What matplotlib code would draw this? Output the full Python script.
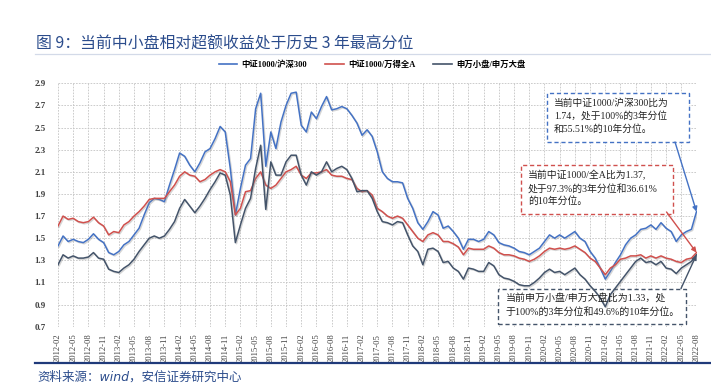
import matplotlib
matplotlib.use("Agg")
import matplotlib.pyplot as plt
import matplotlib.patheffects as pe
from matplotlib.patches import Rectangle
from matplotlib.lines import Line2D
import numpy as np
import pandas as pd

# ---------------- data ----------------
months = pd.date_range("2012-02-01", "2022-08-01", freq="MS").strftime("%Y-%m").tolist()
tick_labels = months[::3]

csi1000_hs300 = [
    1.43, 1.52, 1.47, 1.49, 1.47, 1.46, 1.49, 1.54, 1.49, 1.46,
    1.37, 1.35, 1.38, 1.44, 1.47, 1.53, 1.59, 1.71, 1.82, 1.86,
    1.85, 1.83, 1.98, 2.12, 2.27, 2.24, 2.16, 2.10, 2.18, 2.28,
    2.31, 2.40, 2.51, 2.46, 2.13, 1.71, 1.95, 2.16, 2.22, 2.67,
    2.81, 2.15, 2.46, 2.31, 2.55, 2.70, 2.81, 2.82, 2.52, 2.46,
    2.64, 2.58, 2.69, 2.78, 2.66, 2.67, 2.69, 2.67, 2.61, 2.54,
    2.43, 2.48, 2.42, 2.28, 2.10, 2.04, 2.01, 2.01, 2.00, 1.86,
    1.77, 1.64, 1.58, 1.65, 1.74, 1.71, 1.59, 1.61, 1.56, 1.50,
    1.40, 1.49, 1.49, 1.47, 1.49, 1.56, 1.53, 1.46, 1.44, 1.43,
    1.41, 1.38, 1.37, 1.35, 1.38, 1.41, 1.47, 1.53, 1.50, 1.53,
    1.50, 1.53, 1.56, 1.50, 1.47, 1.38, 1.32, 1.23, 1.13, 1.20,
    1.28, 1.35, 1.44, 1.50, 1.53, 1.58, 1.59, 1.62, 1.58, 1.64,
    1.59, 1.56, 1.47, 1.53, 1.56, 1.58, 1.74,
]

csi1000_winda = [
    1.61, 1.70, 1.67, 1.68, 1.65, 1.64, 1.65, 1.69, 1.64, 1.61,
    1.53, 1.56, 1.55, 1.62, 1.65, 1.70, 1.74, 1.79, 1.85, 1.86,
    1.86, 1.86, 1.92, 1.98, 2.06, 2.10, 2.07, 2.06, 2.01, 2.03,
    2.07, 2.10, 2.12, 2.10, 2.01, 1.71, 1.77, 1.92, 1.93, 2.04,
    2.10, 1.98, 1.95, 1.98, 2.04, 2.10, 2.12, 2.15, 2.07, 2.04,
    2.09, 2.09, 2.10, 2.12, 2.07, 2.06, 2.06, 2.04, 2.03, 1.95,
    1.92, 1.93, 1.89, 1.77, 1.74, 1.70, 1.68, 1.70, 1.68, 1.62,
    1.56, 1.50, 1.47, 1.53, 1.55, 1.53, 1.47, 1.47, 1.45, 1.42,
    1.35, 1.41, 1.40, 1.40, 1.40, 1.43, 1.41, 1.37, 1.35, 1.35,
    1.34, 1.32, 1.31, 1.29, 1.31, 1.34, 1.38, 1.41, 1.40, 1.41,
    1.40, 1.41, 1.43, 1.40, 1.37, 1.32, 1.29, 1.23, 1.17, 1.23,
    1.26, 1.31, 1.32, 1.34, 1.34, 1.35, 1.32, 1.34, 1.32, 1.34,
    1.32, 1.31, 1.29, 1.28, 1.31, 1.32, 1.37,
]

sw_small_large = [
    1.26, 1.35, 1.32, 1.34, 1.32, 1.32, 1.33, 1.37, 1.32, 1.31,
    1.22, 1.20, 1.19, 1.23, 1.26, 1.31, 1.38, 1.44, 1.50, 1.52,
    1.50, 1.52, 1.58, 1.65, 1.77, 1.85, 1.79, 1.73, 1.79, 1.86,
    1.94, 2.01, 2.09, 2.07, 1.89, 1.46, 1.62, 1.77, 1.86, 2.13,
    2.34, 1.76, 2.19, 2.07, 2.07, 2.19, 2.25, 2.25, 2.07, 1.98,
    2.10, 2.07, 2.10, 2.19, 2.10, 2.13, 2.15, 2.12, 2.04, 1.92,
    1.93, 1.93, 1.86, 1.74, 1.65, 1.64, 1.62, 1.65, 1.64, 1.53,
    1.43, 1.38, 1.26, 1.40, 1.41, 1.38, 1.28, 1.29, 1.23, 1.20,
    1.13, 1.23, 1.22, 1.20, 1.20, 1.28, 1.25, 1.17, 1.14, 1.13,
    1.11, 1.08, 1.07, 1.07, 1.10, 1.14, 1.19, 1.22, 1.19, 1.20,
    1.17, 1.20, 1.23, 1.17, 1.13, 1.07, 1.02, 0.96, 0.88, 0.99,
    1.05, 1.11, 1.17, 1.23, 1.29, 1.32, 1.28, 1.29, 1.26, 1.29,
    1.23, 1.22, 1.18, 1.23, 1.26, 1.29, 1.35,
]

series_names = ["中证1000/沪深300", "中证1000/万得全A", "申万小盘/申万大盘"]
yticks = [0.7, 0.9, 1.1, 1.3, 1.5, 1.7, 1.9, 2.1, 2.3, 2.5, 2.7, 2.9]

title = "图 9：当前中小盘相对超额收益处于历史 3 年最高分位"
source = "资料来源：wind，安信证券研究中心"
note_blue = "当前中证1000/沪深300比为\n1.74，处于100%的3年分位\n和55.51%的10年分位。"
note_red = "当前中证1000/全A比为1.37,\n处于97.3%的3年分位和36.61%\n的10年分位。"
note_dark = "当前申万小盘/申万大盘比为1.33，处\n于100%的3年分位和49.6%的10年分位。"

# ---------------- style ----------------
W, H = 711, 384
SERIF = ["Liberation Serif", "Noto Sans CJK SC"]
CJK = ["Noto Sans CJK SC", "DejaVu Sans"]
SRC_FONT = ["DejaVu Sans", "Noto Sans CJK SC"]
C_BLUE = "#4472C4"
C_RED = "#D0504D"
C_DARK = "#44546A"
C_TITLE = "#2B4C8C"


def fx(px):
    return px / W


def fy(py):
    return 1 - py / H


fig = plt.figure(figsize=(W / 100, H / 100), dpi=100)
fig.patch.set_facecolor("white")

ax = fig.add_axes([fx(58), fy(326.7), fx(696.5) - fx(58), fy(83.3) - fy(326.7)])
x = np.arange(len(months))

shadow = [pe.SimpleLineShadow(offset=(0.8, -0.8), shadow_color="#888888", alpha=0.35), pe.Normal()]
for vals, col, name in zip([csi1000_hs300, csi1000_winda, sw_small_large],
                           [C_BLUE, C_RED, C_DARK], series_names):
    ax.plot(x, vals, color=col, lw=1.1, label=name, zorder=4, path_effects=shadow)

ax.set_xlim(0, len(months) - 1)
ax.set_ylim(0.7, 2.9)
ax.set_yticks(yticks)
ax.set_yticklabels([f"{v:.1f}" for v in yticks], fontfamily=SERIF, fontsize=6.5,
                   fontweight="bold", color="#404040")
ax.set_xticks(x[::3])
ax.set_xticklabels(tick_labels, rotation=90, fontfamily=SERIF, fontsize=6.2, color="#404040")
ax.tick_params(length=0, pad=9, axis="y")
ax.tick_params(length=0, pad=5, axis="x")
for s in ax.spines.values():
    s.set_visible(False)
ax.grid(True, color="#C4C4C4", ls=(0, (2, 1.5)), lw=0.6, zorder=0)
ax.set_axisbelow(True)

# legend
handles = [Line2D([], [], color=c, lw=1.2) for c in [C_BLUE, C_RED, C_DARK]]
fig.legend(handles, series_names, loc="center", bbox_to_anchor=(fx(372), fy(65)), ncol=3,
           frameon=False, handlelength=2.2, columnspacing=2.2, handletextpad=0.5,
           prop={"family": SERIF, "size": 6, "weight": "bold"})


# annotation boxes (figure pixels, top-left origin)
def note_box(x0, y0, x1, y1, color, text, tx, ty, lsp, fs):
    r = Rectangle((fx(x0), fy(y1)), fx(x1) - fx(x0), fy(y0) - fy(y1), transform=fig.transFigure,
                  facecolor="white", edgecolor=color, lw=1.0, ls=(0, (3, 2)), zorder=3)
    ax.add_artist(r)
    r.set_transform(fig.transFigure)
    r.set_clip_on(False)
    fig.text(fx(tx), fy(ty), text, fontfamily=SERIF, fontsize=fs, color="#222222",
             va="top", ha="left", linespacing=lsp, zorder=6)


note_box(546.7, 93.3, 689.3, 141.7, C_BLUE, note_blue, 554, 98.5, 1.4, 7.0)
note_box(521, 164.5, 672.5, 214, C_RED, note_red, 528, 170, 1.4, 7.1)
note_box(498.3, 289, 686, 324, C_DARK, note_dark, 506, 292.5, 1.55, 7.2)

# arrows
last = len(months) - 1
for vals, col, (sx, sy) in zip([csi1000_hs300, csi1000_winda, sw_small_large],
                               [C_BLUE, C_RED, C_DARK],
                               [(675, 142), (666.5, 212), (681, 288.5)]):
    ax.annotate("", xy=(last, vals[-1]), xycoords="data",
                xytext=(sx, H - sy), textcoords="figure pixels",
                arrowprops=dict(arrowstyle="-|>", color=col, lw=1.0, mutation_scale=7,
                                shrinkA=0, shrinkB=0), zorder=7, annotation_clip=False)

# title, rules, source
fig.text(fx(36.5), fy(44), title, fontfamily=CJK, fontsize=11.4, color=C_TITLE, va="center", ha="left")
fig.add_artist(Line2D([fx(35), 1], [fy(53.5), fy(53.5)], color="#D3DAE8", lw=0.9, transform=fig.transFigure))
fig.add_artist(Line2D([fx(35), 1], [fy(363), fy(363)], color="#1F3A7A", lw=1.6, transform=fig.transFigure))
fig.text(fx(37.5), fy(377.5), source, fontfamily=SRC_FONT, fontsize=9, color=C_TITLE, va="center", ha="left",
         style="italic")

fig.savefig("out.png", dpi=100, facecolor="white")
